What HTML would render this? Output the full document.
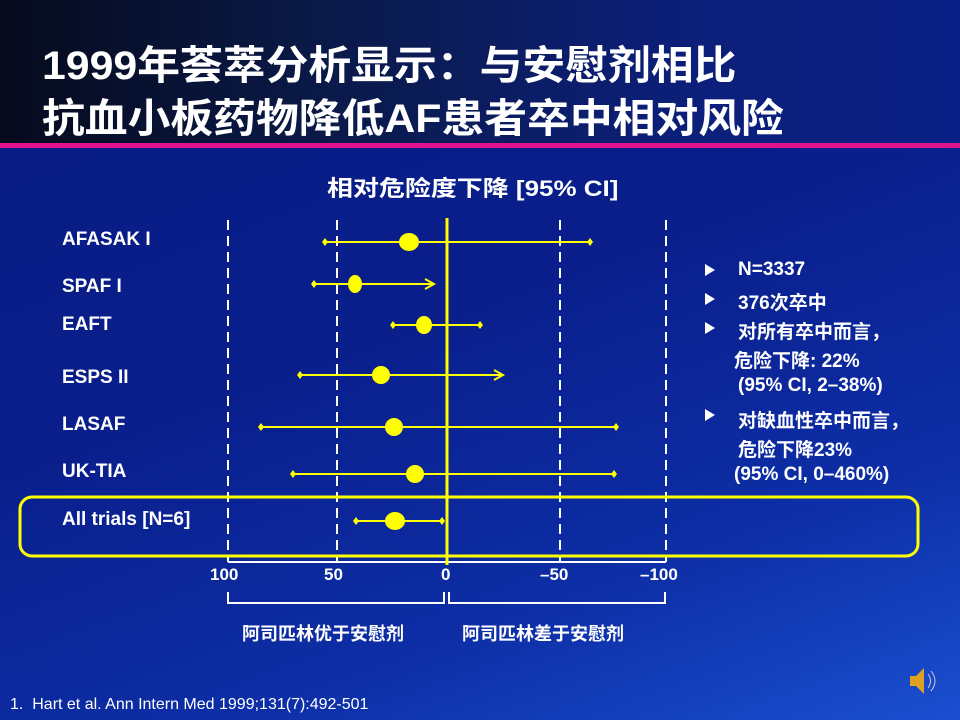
<!DOCTYPE html>
<html><head><meta charset="utf-8"><style>
body{margin:0;width:960px;height:720px;overflow:hidden;font-family:"Liberation Sans","Noto Sans CJK SC",sans-serif;}
#bg{position:absolute;left:0;top:0;width:960px;height:720px;background:linear-gradient(160deg,#061a80 0%,#0a1f8c 45%,#0d2ea6 75%,#1a4fd0 100%);}
#top{position:absolute;left:0;top:0;width:960px;height:143px;background:linear-gradient(90deg,#050a1c 0%,#0a1a4a 35%,#0c1f78 70%,#0a1f86 100%);}
#mag{position:absolute;left:0;top:143px;width:960px;height:5px;background:#e0128e;}
.t{position:absolute;color:#fff;font-weight:bold;white-space:nowrap;}
.h1{font-size:40px;left:42px;transform:scaleX(1.07);transform-origin:0 0;}
.lab{font-size:19px;left:62px;}
.r{font-size:19px;}
</style></head><body>
<div id="bg"></div><div id="top"></div><div id="mag"></div>
<div class="t h1" style="top:33px">1999年荟萃分析显示：与安慰剂相比</div>
<div class="t h1" style="top:86px">抗血小板药物降低AF患者卒中相对风险</div>
<div class="t" style="font-size:22px;left:327px;top:171px;transform:scaleX(1.18);transform-origin:0 0">相对危险度下降 [95% CI]</div>
<div class="t lab" style="top:229px">AFASAK I</div>
<div class="t lab" style="top:276px">SPAF I</div>
<div class="t lab" style="top:314px">EAFT</div>
<div class="t lab" style="top:367px">ESPS II</div>
<div class="t lab" style="top:414px">LASAF</div>
<div class="t lab" style="top:461px">UK-TIA</div>
<div class="t lab" style="top:509px">All trials [N=6]</div>
<svg width="960" height="720" style="position:absolute;left:0;top:0">
<g stroke="#fff" stroke-width="2" stroke-dasharray="10,6">
<line x1="228" y1="220" x2="228" y2="562"/><line x1="337" y1="220" x2="337" y2="562"/>
<line x1="560" y1="220" x2="560" y2="562"/><line x1="666" y1="220" x2="666" y2="562"/>
</g>
<line x1="228" y1="562" x2="666" y2="562" stroke="#fff" stroke-width="2"/>
<line x1="447" y1="218" x2="447" y2="565" stroke="#ffff00" stroke-width="3"/>
<rect x="20" y="497" width="898" height="59" rx="12" fill="none" stroke="#ffff00" stroke-width="3"/>
<g stroke="#ffff00" stroke-width="2" fill="#ffff00">
<line x1="325" y1="242" x2="590" y2="242"/><ellipse cx="409" cy="242" rx="9" ry="8"/>
<line x1="314" y1="284" x2="433" y2="284"/><ellipse cx="355" cy="284" rx="6" ry="8"/>
<polyline points="425,279 434,284 425,289" fill="none"/>
<line x1="393" y1="325" x2="480" y2="325"/><ellipse cx="424" cy="325" rx="7" ry="8"/>
<line x1="300" y1="375" x2="502" y2="375"/><ellipse cx="381" cy="375" rx="8" ry="8"/>
<polyline points="494,370 503,375 494,380" fill="none"/>
<line x1="261" y1="427" x2="616" y2="427"/><ellipse cx="394" cy="427" rx="8" ry="8"/>
<line x1="293" y1="474" x2="614" y2="474"/><ellipse cx="415" cy="474" rx="8" ry="8"/>
<line x1="356" y1="521" x2="442" y2="521"/><ellipse cx="395" cy="521" rx="9" ry="8"/>
</g>
<g fill="#ffff00">
<path d="M325 238l3 4-3 4-3-4z"/><path d="M590 238l3 4-3 4-3-4z"/>
<path d="M314 280l3 4-3 4-3-4z"/>
<path d="M393 321l3 4-3 4-3-4z"/><path d="M480 321l3 4-3 4-3-4z"/>
<path d="M300 371l3 4-3 4-3-4z"/>
<path d="M261 423l3 4-3 4-3-4z"/><path d="M616 423l3 4-3 4-3-4z"/>
<path d="M293 470l3 4-3 4-3-4z"/><path d="M614 470l3 4-3 4-3-4z"/>
<path d="M356 517l3 4-3 4-3-4z"/><path d="M442 517l3 4-3 4-3-4z"/>
</g>
<g stroke="#fff" stroke-width="2" fill="none">
<polyline points="228,592 228,603 444,603 444,592"/>
<polyline points="449,592 449,603 665,603 665,592"/>
</g>
<g fill="#fff"><path d="M705 264l10 6-10 6z"/><path d="M705 293l10 6-10 6z"/><path d="M705 322l10 6-10 6z"/><path d="M705 409l10 6-10 6z"/></g>
<g transform="translate(908,668)"><path d="M2 8h6l8-8v26l-8-8H2z" fill="#e0a020"/><path d="M20 6q5 7 0 14M23 3q8 10 0 20" stroke="#ccc" fill="none" stroke-width="1"/></g>
</svg>
<div class="t" style="font-size:17px;left:210px;top:565px">100</div>
<div class="t" style="font-size:17px;left:324px;top:565px">50</div>
<div class="t" style="font-size:17px;left:441px;top:565px">0</div>
<div class="t" style="font-size:17px;left:540px;top:565px">–50</div>
<div class="t" style="font-size:17px;left:640px;top:565px">–100</div>
<div class="t" style="font-size:18px;left:242px;top:620px">阿司匹林优于安慰剂</div>
<div class="t" style="font-size:18px;left:462px;top:620px">阿司匹林差于安慰剂</div>
<div class="t r" style="left:738px;top:259px">N=3337</div>
<div class="t r" style="left:738px;top:288px">376次卒中</div>
<div class="t r" style="left:738px;top:317px">对所有卒中而言，</div>
<div class="t r" style="left:734px;top:346px">危险下降: 22%</div>
<div class="t r" style="left:738px;top:375px">(95% CI, 2–38%)</div>
<div class="t r" style="left:738px;top:406px">对缺血性卒中而言，</div>
<div class="t r" style="left:738px;top:435px">危险下降23%</div>
<div class="t r" style="left:734px;top:464px">(95% CI, 0–460%)</div>
<div class="t" style="font-size:16px;font-weight:normal;left:10px;top:696px">1.&nbsp; Hart et al. Ann Intern Med 1999;131(7):492-501</div>
</body></html>
